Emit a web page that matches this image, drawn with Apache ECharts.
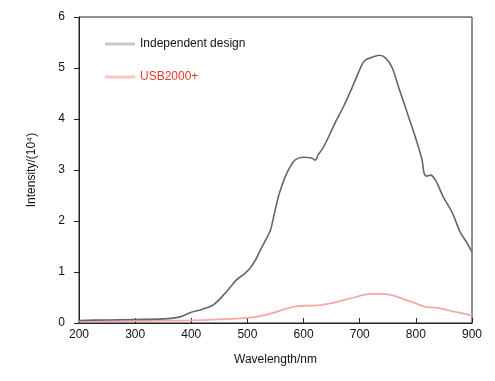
<!DOCTYPE html>
<html>
<head>
<meta charset="utf-8">
<script src="https://cdn.jsdelivr.net/npm/echarts@6/dist/echarts.min.js"></script>
<style>html,body{margin:0;padding:0;background:#fff}#c{width:495px;height:381px}</style>
</head>
<body>
<div id="c"></div>
<script>
var seriesNames = ['Independent design', 'USB2000+'];
var xTicks = [200, 300, 400, 500, 600, 700, 800, 900];
var yTicks = [0, 1, 2, 3, 4, 5, 6];

var wlIndependent = [200, 250, 300, 350, 380, 400, 420, 440, 460, 470, 480, 495, 505, 515, 523, 532, 541, 548, 555, 561, 567, 576, 585, 600, 615, 621, 626, 634, 642, 656, 671, 687, 698, 707, 714, 720, 734, 746, 758, 769, 784, 799, 811, 815, 820, 826, 835, 849, 865, 879, 891, 900];
var valIndependent = [0.05, 0.06, 0.07, 0.08, 0.12, 0.21, 0.27, 0.36, 0.58, 0.71, 0.84, 0.97, 1.08, 1.25, 1.43, 1.62, 1.82, 2.15, 2.47, 2.68, 2.86, 3.06, 3.2, 3.25, 3.23, 3.19, 3.3, 3.42, 3.59, 3.92, 4.24, 4.63, 4.92, 5.12, 5.18, 5.2, 5.25, 5.2, 5.0, 4.63, 4.14, 3.65, 3.2, 2.92, 2.88, 2.9, 2.8, 2.47, 2.16, 1.78, 1.57, 1.39];

var wlUSB = [200, 250, 300, 350, 400, 450, 500, 525, 546, 570, 590, 610, 630, 650, 671, 690, 707, 725, 737, 750, 765, 780, 799, 810, 820, 835, 850, 865, 880, 900];
var valUSB = [0.03, 0.035, 0.04, 0.045, 0.05, 0.07, 0.1, 0.14, 0.2, 0.28, 0.33, 0.34, 0.35, 0.39, 0.45, 0.5, 0.55, 0.57, 0.57, 0.56, 0.52, 0.46, 0.39, 0.34, 0.31, 0.3, 0.27, 0.23, 0.2, 0.15];

function pairs(xs, ys) { return xs.map(function (x, i) { return [x, ys[i]]; }); }

var chart = echarts.init(document.getElementById('c'), null, {renderer: 'canvas'});
var font = 'Liberation Sans, Arial, sans-serif';
chart.setOption({
  animation: false,
  backgroundColor: '#fff',
  textStyle: {fontFamily: font},
  grid: {left: 79, right: 23, top: 17, bottom: 58, show: true, borderColor: '#222', borderWidth: 1, backgroundColor: 'transparent'},
  legend: {
    orient: 'vertical', left: 100, top: 33, itemWidth: 30, itemHeight: 3, itemGap: 21,
    icon: 'rect', selectedMode: false,
    textStyle: {fontFamily: font, fontSize: 12, padding: [0, 0, 0, 0]},
    data: [
      {name: seriesNames[0], itemStyle: {color: '#c8c8c8'}, textStyle: {color: '#111'}},
      {name: seriesNames[1], itemStyle: {color: '#f7c6c6'}, textStyle: {color: '#e8392e'}}
    ]
  },
  xAxis: {
    type: 'value', min: xTicks[0], max: xTicks[xTicks.length - 1], interval: 100,
    name: 'Wavelength/nm', nameLocation: 'middle', nameGap: 31,
    nameTextStyle: {color: '#111', fontSize: 12, fontFamily: font},
    axisLine: {lineStyle: {color: '#222', width: 1}},
    axisTick: {inside: true, length: 5, lineStyle: {color: '#222'}},
    axisLabel: {color: '#111', fontSize: 12, margin: 6, fontFamily: font},
    splitLine: {show: false}
  },
  yAxis: {
    type: 'value', min: yTicks[0], max: yTicks[yTicks.length - 1], interval: 1,
    name: 'Intensity/(10⁴)', nameLocation: 'middle', nameGap: 41,
    nameTextStyle: {color: '#111', fontSize: 12, fontFamily: font},
    axisLine: {lineStyle: {color: '#222', width: 1}},
    axisTick: {inside: false, length: 5, lineStyle: {color: '#222'}},
    axisLabel: {color: '#111', fontSize: 12, margin: 14, fontFamily: font},
    splitLine: {show: false}
  },
  series: [
    {
      name: seriesNames[0], type: 'line', showSymbol: false, smooth: 0.3,
      data: pairs(wlIndependent, valIndependent),
      lineStyle: {color: '#666666', width: 1.6}, itemStyle: {color: '#666666'}, z: 3
    },
    {
      name: seriesNames[1], type: 'line', showSymbol: false, smooth: 0.3,
      data: pairs(wlUSB, valUSB),
      lineStyle: {color: '#f4a8a8', width: 1.8}, itemStyle: {color: '#f4a8a8'}, z: 2
    }
  ]
});
</script>
</body>
</html>
